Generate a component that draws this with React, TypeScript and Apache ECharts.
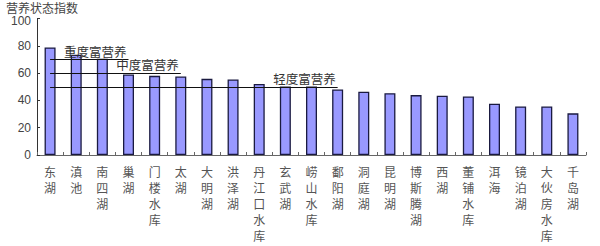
import React, { useEffect, useRef } from "react";
import * as echarts from "echarts";

const categories = ["东湖", "滇池", "南四湖", "巢湖", "门楼水库", "太湖", "大明湖", "洪泽湖", "丹江口水库", "玄武湖", "崂山水库", "鄱阳湖", "洞庭湖", "昆明湖", "博斯腾湖", "西湖", "董铺水库", "洱海", "镜泊湖", "大伙房水库", "千岛湖"];
const values = [78.8, 73.5, 70.5, 59, 58, 57.5, 55.8, 55.3, 52.1, 50.2, 50.2, 48, 46.3, 45.3, 43.9, 43.4, 42.9, 37.6, 35.6, 35.6, 30.5];
const levelNames = ["重度富营养", "中度富营养", "轻度富营养"];
const levelValues = [70, 60, 50];
const levelEndIndex = [3, 5, 11];
const yTitle = "营养状态指数";

export default function App() {
  const ref = useRef<HTMLDivElement>(null);
  useEffect(() => {
    const chart = echarts.init(ref.current!, null, { renderer: "svg" });
    const cjk = "'Noto Sans CJK SC', sans-serif";
    const num = "'Liberation Sans', Arial, sans-serif";
    chart.setOption({
      animation: false,
      title: {
        text: yTitle,
        left: 6,
        top: 0,
        padding: 0,
        textStyle: { fontSize: 12, fontWeight: "normal", color: "#444", fontFamily: cjk, lineHeight: 14 },
      },
      grid: { left: 37, right: 14, top: 18.5, bottom: 91, containLabel: false },
      xAxis: {
        type: "category",
        data: categories,
        axisLine: { lineStyle: { color: "#666", width: 1 } },
        axisTick: { show: true, inside: true, length: 3, lineStyle: { color: "#666" } },
        axisLabel: {
          interval: 0,
          formatter: (v: string) => v.split("").join("\n"),
          lineHeight: 16,
          fontSize: 12,
          color: "#555",
          fontFamily: cjk,
          margin: 8,
          verticalAlign: "top",
        },
      },
      yAxis: {
        type: "value",
        min: 0,
        max: 100,
        interval: 20,
        axisLine: { show: true, lineStyle: { color: "#333", width: 1 } },
        axisTick: { show: true, inside: true, length: 3, lineStyle: { color: "#333" } },
        splitLine: { show: false },
        axisLabel: {
          fontSize: 12,
          lineHeight: 11,
          color: "#444",
          fontFamily: num,
          margin: 6,
          formatter: (v: number) => (v === 100 ? "{t|100}" : String(v)),
          rich: { t: { fontSize: 12, lineHeight: 11, color: "#444", fontFamily: num, padding: [5, 0, 0, 0] } },
        },
      },
      series: [
        {
          type: "bar",
          data: values,
          barWidth: 11,
          itemStyle: { color: "#9999ff", borderColor: "#1a1a40", borderWidth: 1.3 },
          markLine: {
            silent: true,
            symbol: ["none", "none"],
            lineStyle: { color: "#111", width: 1.2, type: "solid" },
            label: {
              show: true,
              position: "insideEndTop",
              distance: [2, 2],
              fontSize: 12.5,
              color: "#333",
              fontFamily: cjk,
              formatter: (p: any) => p.name,
            },
            data: levelValues.map((v, i) => [
              { name: levelNames[i], coord: [0, v] },
              { coord: [levelEndIndex[i], v] },
            ]),
          },
        },
      ],
    });
    return () => chart.dispose();
  }, []);
  return <div ref={ref} style={{ position: "absolute", left: 0, top: 0, width: 600, height: 246 }} />;
}
